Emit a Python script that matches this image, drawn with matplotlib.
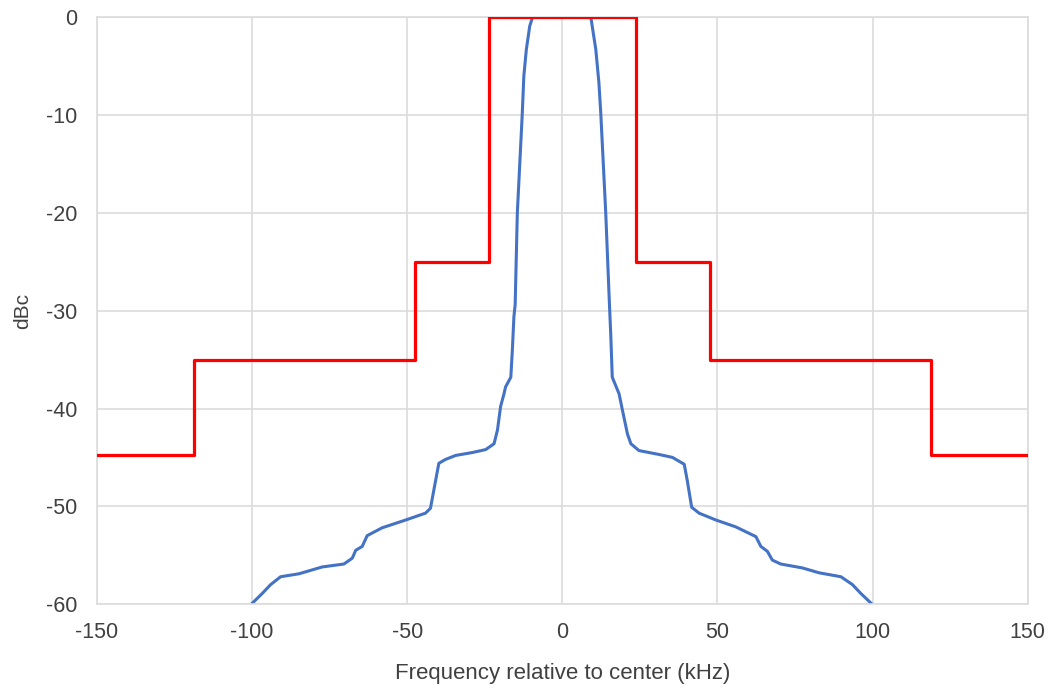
import numpy as np
import matplotlib
matplotlib.use("Agg")
import matplotlib.pyplot as plt

# ── spectral mask (step edges, kHz / dBc) ────────────────────────────────────
mask_f = [-150, -118.75, -118.75, -47.5, -47.5, -23.75, -23.75,
          23.75, 23.75, 47.5, 47.5, 118.75, 118.75, 150]
mask_db = [-44.75, -44.75, -35, -35, -25, -25, 0,
           0, -25, -25, -35, -35, -44.75, -44.75]

spec_f = [-99.9, -96.7, -94.0, -90.8, -84.9, -77.4, -70.4, -67.7, -66.6, -64.5,
          -62.9, -58.1, -50.5, -44.1, -42.5, -40.8, -39.8, -37.6, -34.4, -29.0,
          -24.7, -22.0, -20.9, -19.9, -18.8, -18.3, -16.6, -16.1, -15.6, -15.2,
          -14.5, -12.9, -12.4, -11.6, -10.5, -9.6, 0.0,
          9.2, 10.8, 11.8, 12.4, 14.0, 15.2, 15.6, 16.1, 18.3, 19.4,
          21.0, 22.1, 24.7, 31.2, 35.5, 39.3, 40.3, 41.7, 44.1, 49.5,
          55.9, 62.4, 64.0, 66.1, 67.7, 70.4, 77.4, 82.8, 89.8, 93.5,
          96.2, 99.5]
spec_db = [-59.9, -58.9, -58.0, -57.2, -56.9, -56.2, -55.9, -55.3, -54.5, -54.1,
           -53.0, -52.2, -51.4, -50.7, -50.2, -47.3, -45.6, -45.2, -44.8, -44.5,
           -44.2, -43.6, -42.2, -39.8, -38.5, -37.8, -36.8, -34.0, -30.6, -29.4,
           -20.0, -9.8, -6.0, -3.3, -0.9, 0.0, 0.0,
           0.0, -3.3, -6.7, -9.8, -20.0, -29.4, -32.3, -36.8, -38.5, -40.2,
           -42.6, -43.6, -44.3, -44.7, -45.0, -45.7, -47.4, -50.1, -50.7, -51.4,
           -52.1, -53.1, -54.1, -54.6, -55.5, -55.9, -56.3, -56.8, -57.2, -58.0,
           -58.9, -59.9]

x_ticks = [-150, -100, -50, 0, 50, 100, 150]
y_ticks = [-60, -50, -40, -30, -20, -10, 0]

TEXT = "#404040"
GRID = "#dcdcdc"

plt.rcParams.update({
    "font.family": ["Liberation Sans", "DejaVu Sans"],
    "font.size": 15,
    "axes.unicode_minus": False,
})

fig = plt.figure(figsize=(10.54, 6.92), dpi=100)
ax = fig.add_axes([0.092, 0.127, 0.883, 0.848])

ax.plot(spec_f, spec_db, color="#4472C4", linewidth=2.2, zorder=2)
ax.plot(mask_f, mask_db, color="#FF0000", linewidth=2.3, zorder=3)

ax.set_xlim(-150, 150)
ax.set_ylim(-60, 0)
ax.set_xticks(x_ticks)
ax.set_yticks(y_ticks)
ax.grid(color=GRID, linewidth=1.2)
ax.set_axisbelow(True)
ax.tick_params(length=0, colors=TEXT, labelsize=15.5)
ax.tick_params(axis="x", pad=13)
ax.tick_params(axis="y", pad=14)
for s in ax.spines.values():
    s.set_color(GRID)
    s.set_linewidth(1.2)

ax.set_xlabel("Frequency relative to center (kHz)", color=TEXT, fontsize=16, labelpad=14)
ax.set_ylabel("dBc", color=TEXT, fontsize=15, labelpad=10)

fig.savefig("out.png", dpi=100)
